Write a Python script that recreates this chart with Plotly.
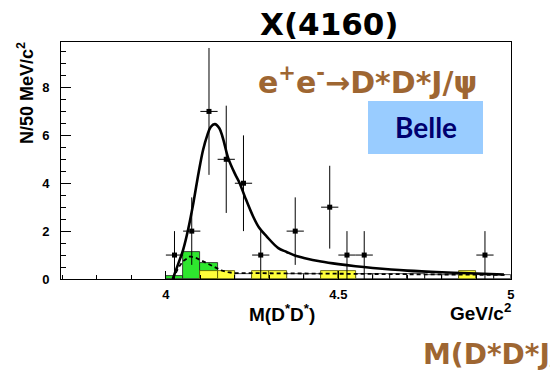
import plotly.graph_objects as go

# ---------------- data ----------------
bin_centers = [4.025, 4.075, 4.125, 4.175, 4.225, 4.275, 4.375, 4.475, 4.525, 4.575, 4.925]
counts      = [1, 2, 7, 5, 4, 1, 2, 3, 1, 1, 1]
count_err   = [1.0, 1.41, 2.65, 2.24, 2.0, 1.0, 1.41, 1.73, 1.0, 1.0, 1.0]
half_bin    = [0.025] * len(bin_centers)

green_x = [4.025, 4.075, 4.125]
green_y = [0.14, 1.13, 0.67]

yellow_x = [4.125, 4.175, 4.275, 4.325, 4.475, 4.525, 4.875]
yellow_y = [0.32, 0.32, 0.32, 0.32, 0.32, 0.32, 0.34]

outline_x = [4.225, 4.375, 4.425, 4.575, 4.625, 4.675, 4.725, 4.775, 4.825, 4.925, 4.975]
outline_y = [0.2, 0.2, 0.2, 0.2, 0.19, 0.19, 0.19, 0.18, 0.18, 0.18, 0.17]

fit_x = [4.02, 4.035, 4.05, 4.065, 4.08, 4.095, 4.108, 4.12, 4.13, 4.142, 4.155, 4.165,
         4.181, 4.2, 4.214, 4.23, 4.253, 4.27, 4.292, 4.326, 4.35, 4.376, 4.4, 4.45,
         4.5, 4.55, 4.6, 4.7, 4.8, 4.9, 4.98]
fit_y = [0.0, 0.6, 1.22, 2.1, 3.2, 4.45, 5.4, 6.0, 6.35, 6.47, 6.3, 5.9,
         5.04, 4.4, 4.0, 3.4, 2.61, 2.15, 1.78, 1.29, 1.13, 0.97, 0.88, 0.73,
         0.62, 0.53, 0.46, 0.35, 0.28, 0.23, 0.19]

bkg_x = [4.02, 4.036, 4.05, 4.07, 4.089, 4.11, 4.128, 4.145, 4.161, 4.18, 4.195,
         4.3, 4.5, 4.7, 4.9, 4.99]
bkg_y = [0.0, 0.46, 0.75, 0.94, 0.87, 0.72, 0.6, 0.47, 0.36, 0.29, 0.25,
         0.24, 0.22, 0.2, 0.18, 0.17]

x_tick_vals = [4, 4.5, 5]
x_tick_text = ["4", "4.5", "5"]
y_tick_vals = [0, 2, 4, 6, 8]
y_tick_text = ["0", "2", "4", "6", "8"]

# ---------------- figure ----------------
W, H = 550, 374
L, R, T, B = 61, 39, 42, 95
pw, ph = W - L - R, H - T - B


def px(x):
    return (x - L) / pw


def py(y):
    return (H - B - y) / ph


fig = go.Figure()

fig.add_trace(go.Bar(x=outline_x, y=outline_y, width=0.05,
                     marker=dict(color="rgba(255,255,255,0)", line=dict(color="black", width=0.7)),
                     showlegend=False, hoverinfo="skip"))
fig.add_trace(go.Bar(x=green_x, y=green_y, width=0.05,
                     marker=dict(color="#2EE62E", line=dict(color="#1a1a1a", width=0.8)),
                     showlegend=False))
fig.add_trace(go.Bar(x=yellow_x, y=yellow_y, width=0.05,
                     marker=dict(color="#FFFF3A", line=dict(color="#555500", width=0.8)),
                     showlegend=False))

fig.add_trace(go.Scatter(x=bkg_x, y=bkg_y, mode="lines",
                         line=dict(color="black", width=1.8, dash="4px,3px"),
                         showlegend=False))
fig.add_trace(go.Scatter(x=fit_x, y=fit_y, mode="lines", line_shape="spline",
                         line=dict(color="black", width=2.6),
                         showlegend=False))
fig.add_trace(go.Scatter(x=bin_centers, y=counts, mode="markers",
                         marker=dict(symbol="square", size=5, color="black"),
                         error_y=dict(type="data", array=count_err, width=0, thickness=1, color="black"),
                         error_x=dict(type="data", array=half_bin, width=0, thickness=1, color="black"),
                         showlegend=False))

axfont = dict(family="Liberation Sans, Arial", size=13, color="black", weight="bold")

fig.update_layout(
    width=W, height=H,
    margin=dict(l=L, r=R, t=T, b=B, pad=0),
    paper_bgcolor="white", plot_bgcolor="white",
    barmode="overlay", bargap=0,
    xaxis=dict(range=[3.696, 5.0005], tickvals=x_tick_vals, ticktext=x_tick_text,
               ticks="inside", ticklen=8, tickwidth=1, tickcolor="black",
               minor=dict(dtick=0.1, tick0=4, ticks="inside", ticklen=4, tickcolor="black"),
               showline=True, linecolor="black", linewidth=1, mirror=True,
               showgrid=False, zeroline=False, tickfont=axfont, ticklabelstandoff=3),
    yaxis=dict(range=[0, 9.9], tickvals=y_tick_vals, ticktext=y_tick_text,
               ticks="inside", ticklen=10, tickwidth=1, tickcolor="black",
               minor=dict(dtick=0.5, tick0=0, ticks="inside", ticklen=5, tickcolor="black"),
               showline=True, linecolor="black", linewidth=1, mirror=True,
               showgrid=False, zeroline=False, tickfont=axfont, ticklabelstandoff=8),
)

fig.add_shape(type="rect", xref="paper", yref="paper",
              x0=px(368), x1=px(483), y0=py(154), y1=py(101),
              fillcolor="#99CCFF", line=dict(width=0), layer="above")

brown = "#9E6632"
ann = [
    dict(text="X(4160)", x=px(329), y=py(24), xanchor="center", yanchor="middle",
         font=dict(family="DejaVu Sans", size=31, color="black", weight="bold")),
    dict(text="e<sup>+</sup>e<sup>-</sup>→D*D*J/ψ", x=px(256), y=py(80), xanchor="left", yanchor="middle",
         font=dict(family="DejaVu Sans", size=30, color=brown, weight="bold")),
    dict(text="Belle", x=px(425.5), y=py(127), xanchor="center", yanchor="middle",
         font=dict(family="Lato, Open Sans", size=28, color="#000070", weight="bold")),
    dict(text="N/50 MeV/c<sup>2</sup>", x=px(25), y=py(93), xanchor="center", yanchor="middle",
         textangle=-90, font=dict(family="Liberation Sans, Arial", size=18, color="black", weight="bold")),
    dict(text="M(D<sup>*</sup>D<sup>*</sup>)", x=px(282), y=py(313), xanchor="center", yanchor="middle",
         font=dict(family="Liberation Sans, Arial", size=19, color="black", weight="bold")),
    dict(text="GeV/c<sup>2</sup>", x=px(513), y=py(312), xanchor="right", yanchor="middle",
         font=dict(family="Liberation Sans, Arial", size=19, color="black", weight="bold")),
    dict(text="M(D*D*J/ψ)", x=px(421), y=py(354), xanchor="left", yanchor="middle",
         font=dict(family="DejaVu Sans", size=28, color=brown, weight="bold")),
]
for a in ann:
    fig.add_annotation(xref="paper", yref="paper", showarrow=False, **a)

fig.write_html("out.html")
